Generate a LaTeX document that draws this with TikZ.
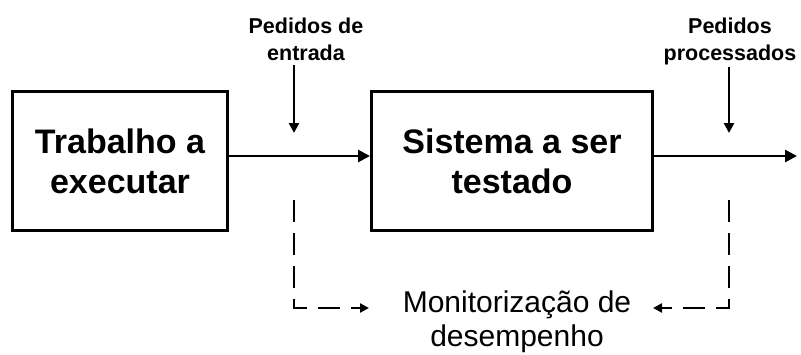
\documentclass[tikz,border=0pt]{standalone}
\usepackage{fontspec}
\setmainfont{Liberation Sans}
\usetikzlibrary{arrows.meta}
\begin{document}
\begin{tikzpicture}[x=1pt,y=-1pt,
  boxnode/.style={draw,line width=3pt,inner sep=0pt,align=center,
    font=\fontsize{34}{40}\selectfont\bfseries},
  lbl/.style={align=center,inner sep=2pt,font=\fontsize{21.5}{27}\selectfont\bfseries},
  mon/.style={align=center,inner sep=0pt,font=\fontsize{30}{34}\selectfont},
  flow/.style={line width=2.8pt,-{Triangle[length=12pt,width=12pt]}},
  tick/.style={line width=2.6pt,-{Triangle[length=10pt,width=10pt]}},
  dashline/.style={line width=2.6pt,dash pattern=on 22pt off 11pt,-{Triangle[length=9pt,width=9pt]}}]
\useasboundingbox (0,0) rectangle (801,354);
\fill[white] (0,0) rectangle (801,354);
\node[boxnode,minimum width=215pt,minimum height=139pt] (b1) at (120,161) {Trabalho a\\executar};
\node[boxnode,minimum width=281pt,minimum height=139pt] (b2) at (512,161) {Sistema a ser\\testado};
\coordinate (out) at (797,156);
\draw[flow] ([yshift=5pt]b1.east) -- ([yshift=5pt]b2.west);
\draw[flow] ([yshift=5pt]b2.east) -- (out);
\node[lbl,anchor=base] (lin) at (306,60) {Pedidos de\\entrada};
\node[lbl,anchor=base] (lout) at (730,60) {Pedidos\\processados};
\coordinate (inT) at (294,133);
\coordinate (outT) at (729,133);
\draw[tick] ([yshift=-3pt]lin.south -| inT) -- (inT);
\draw[tick] (lout.south -| outT) -- (outT);
\node[mon] (m) at (517,322) {Monitorização de\\desempenho};
\coordinate (dIn) at (294,200);
\coordinate (dOut) at (729,200);
\coordinate (mL) at (369,308);
\coordinate (mR) at (653,308);
\draw[dashline] (dIn) |- (mL);
\draw[dashline] (dOut) |- (mR);
\end{tikzpicture}
\end{document}
